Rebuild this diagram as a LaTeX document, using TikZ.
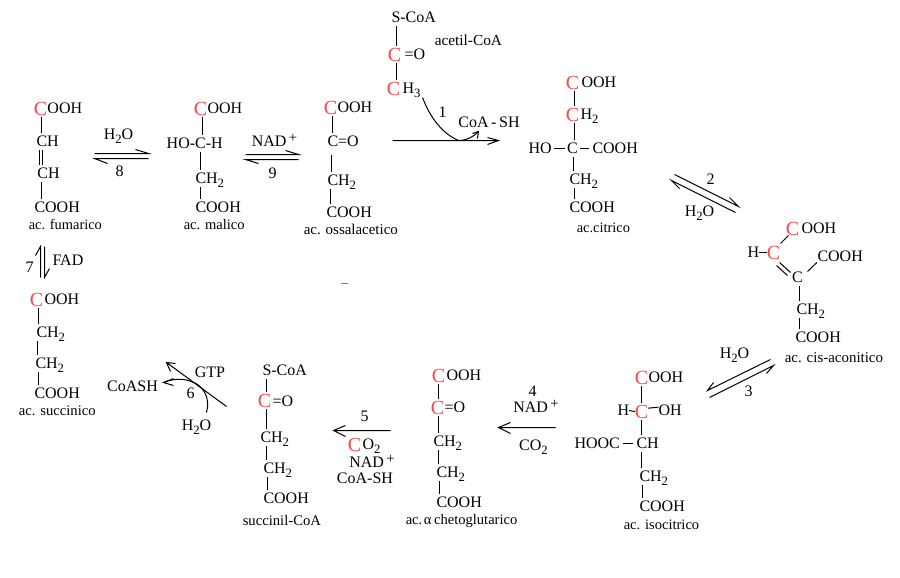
\documentclass[tikz,border=0pt]{standalone}
\usepackage{fontspec}
\setmainfont{Liberation Serif}
\definecolor{cred}{RGB}{255,70,70}
\newcommand{\fsA}{\fontsize{12}{14}\selectfont}
\newcommand{\fsR}{\fontsize{15}{17}\selectfont}
\newcommand{\sbs}[1]{\raisebox{-2.6pt}{\fontsize{9.5}{10}\selectfont #1}}
\newcommand{\sps}{\raisebox{3.6pt}{\fontsize{11}{11}\selectfont\,+}}
\tikzset{
  atom/.style={inner sep=0pt,outer xsep=0pt,outer ysep=2.6pt,text height=8pt,text depth=0pt,font=\fsA},
  redatom/.style={inner sep=0pt,outer xsep=0pt,outer ysep=1.6pt,text height=10pt,text depth=0pt,font=\fsR,text=cred},
  tail/.style={atom,anchor=west},
  cname/.style={inner sep=0pt,anchor=west,text height=7pt,text depth=0pt},
  bondl/.style={draw=black,line width=0.75pt},
  arrl/.style={draw=black,line width=0.75pt,line join=miter}
}
% black C with a tail: name, left x, y, tail
\newcommand{\Cb}[4]{\node[tail] (#1) at (#2,#3) {C}; \node[tail] (#1t) at (#1.east) {#4};}
% vertical bond: x, upper node, lower node
\newcommand{\bond}[3]{\draw[bondl] (#1,0 |- #2.south) -- (#1,0 |- #3.north);}
% formula text
\newcommand{\txt}[4]{\node[tail] (#1) at (#2,#3) {#4};}
% compound name: node, left x, y, size, text
\newcommand{\cpd}[5]{\node[cname,font=\fontsize{#4}{#4}\selectfont] (#1) at (#2,#3) {#5};}
\begin{document}
\begin{tikzpicture}[x=0.75pt,y=-0.75pt]
\path[use as bounding box,fill=white] (0,0) rectangle (900,578);
\begin{scope}[shift={(0.5,0.5)}]

% --- ac. fumarico
\node[redatom] (f1) at (40,108) {C}; \txt{f1t}{47}{108}{OOH}
\Cb{f2}{36}{141}{H}
\Cb{f3}{37}{173}{H}
\Cb{f4}{34}{207}{OOH}
\bond{41}{f1}{f2}
\draw[bondl] (39,0 |- f2.south) -- (39,0 |- f3.north);
\draw[bondl] (42,0 |- f2.south) -- (42,0 |- f3.north);
\bond{41}{f3}{f4}
\cpd{fn}{28}{224}{10.8}{ac. fumarico}

% --- ac. malico
\node[redatom] (m1) at (200,108) {C}; \txt{m1t}{207}{108}{OOH}
\node[atom] (m2) at (200,143) {C};
\node[atom,anchor=east] (m2l) at (m2.west) {HO-};
\node[tail] (m2r) at (m2.east) {-H};
\Cb{m3}{195}{178}{H\sbs{2}}
\Cb{m4}{195}{207}{OOH}
\bond{202}{m1}{m2}
\bond{200}{m2}{m3}
\bond{200}{m3}{m4}
\cpd{mn}{183}{224}{10.9}{ac. malico}

% --- ac. ossalacetico
\node[redatom] (o1) at (330,107) {C}; \txt{o1t}{337}{107}{OOH}
\Cb{o2}{327}{141}{=O}
\Cb{o3}{327}{180}{H\sbs{2}}
\Cb{o4}{326}{212}{OOH}
\bond{332}{o1}{o2}
\draw[bondl] (331,0 |- o2.south) ++(0,5) -- (331,0 |- o3.north);
\bond{330}{o3}{o4}
\cpd{on}{303}{229}{11.2}{ac. ossalacetico}
\draw[draw=cred,line width=0.75pt] (340,283) -- (347,283);

% --- acetil-CoA
\txt{a0}{391}{17}{S-CoA}
\node[redatom] (a1) at (394,54) {C}; \txt{a1t}{404}{54}{=O}
\node[redatom] (a2) at (393,88) {C}; \txt{a2t}{402}{88}{H\sbs{3}}
\draw[bondl] (396,0 |- a0.south) -- (396,0 |- a1.north);
\bond{396}{a1}{a2}
\cpd{an}{434}{40}{11.5}{acetil-CoA}

% --- ac. citrico
\node[redatom] (c1) at (572,82) {C}; \txt{c1t}{581}{82}{OOH}
\node[redatom] (c2) at (572,114) {C}; \txt{c2t}{580}{114}{H\sbs{2}}
\node[atom] (c3) at (572,148) {C};
\txt{c3l}{528}{148}{HO}
\txt{c3r}{592}{148}{COOH}
\Cb{c4}{569}{179}{H\sbs{2}}
\Cb{c5}{569}{207}{OOH}
\bond{574}{c1}{c2}
\bond{574}{c2}{c3}
\bond{573}{c3}{c4}
\bond{574}{c4}{c5}
\draw[bondl,shorten <=2pt,shorten >=1.5pt] (c3l.east) -- (c3.west);
\draw[bondl,shorten <=1.5pt,shorten >=3pt] (c3.east) -- (c3r.west);
\cpd{cn}{576}{227}{10.8}{ac.citrico}

% --- ac. cis-aconitico
\node[redatom] (k1) at (792,228) {C}; \txt{k1t}{801}{228}{OOH}
\txt{k2l}{747}{252}{H}
\node[redatom] (k2) at (773,252) {C};
\node[atom] (k3) at (797,277) {C};
\Cb{k4}{817}{256}{OOH}
\Cb{k5}{796}{309}{H\sbs{2}}
\Cb{k6}{795}{337}{OOH}
\draw[bondl] ([shift={(7,-9)}]k2.center) -- ([shift={(-4,7)}]k1.center);
\draw[bondl] (k2l.east) -- (k2.west);
\draw[bondl] ([shift={(6,10)}]k2.center) -- ([shift={(-7,-5)}]k3.center);
\draw[bondl] ([shift={(3,13)}]k2.center) -- ([shift={(-10,-2)}]k3.center);
\draw[bondl] ([shift={(10,-6)}]k3.center) -- ([shift={(-6,6)}]k4.center);
\bond{799}{k3}{k5}
\bond{799}{k5}{k6}
\cpd{kn}{784}{357}{11.2}{ac. cis-aconitico}

% --- ac. isocitrico
\node[redatom] (i1) at (641,377) {C}; \txt{i1t}{648}{377}{OOH}
\txt{i2l}{617}{410}{H}
\node[redatom] (i2) at (641,411) {C};
\txt{i2r}{658}{410}{OH}
\Cb{i3}{636}{443}{H}
\txt{i3l}{574}{443}{HOOC}
\Cb{i4}{639}{476}{H\sbs{2}}
\Cb{i5}{639}{506}{OOH}
\bond{641}{i1}{i2}
\bond{641}{i2}{i3}
\bond{641}{i3}{i4}
\bond{642}{i4}{i5}
\draw[bondl] (i2l.east) -- (i2.west);
\draw[bondl] ([yshift=2.5pt]i2.east) -- ([yshift=2.5pt]i2r.west);
\draw[bondl,shorten <=2pt,shorten >=3pt] (i3l.east) -- (i3.west);
\cpd{in}{623}{524}{10.9}{ac. isocitrico}

% --- ac. chetoglutarico
\node[redatom] (g1) at (438,375) {C}; \txt{g1t}{446}{375}{OOH}
\node[redatom] (g2) at (437,407) {C}; \txt{g2t}{444}{407}{=O}
\Cb{g3}{433}{441}{H\sbs{2}}
\Cb{g4}{436}{472}{H\sbs{2}}
\Cb{g5}{436}{502}{OOH}
\bond{438}{g1}{g2}
\bond{438}{g2}{g3}
\bond{438}{g3}{g4}
\bond{439}{g4}{g5}
\cpd{gn}{405}{519}{10.9}{ac.\hspace{1.2pt}α\hspace{2pt}chetoglutarico}

% --- succinil-CoA
\txt{s0}{262}{370}{S-CoA}
\node[redatom] (s1) at (264,400) {C}; \txt{s1t}{272}{401}{=O}
\Cb{s2}{260}{437}{H\sbs{2}}
\Cb{s3}{263}{468}{H\sbs{2}}
\Cb{s4}{263}{498}{OOH}
\draw[bondl] (266,0 |- s0.south) -- (266,0 |- s1.north);
\bond{266}{s1}{s2}
\bond{266}{s2}{s3}
\bond{267}{s3}{s4}
\cpd{sn}{242}{520}{11}{succinil-CoA}

% --- ac. succinico
\node[redatom] (u1) at (36,299) {C}; \txt{u1t}{44}{299}{OOH}
\Cb{u2}{36}{332}{H\sbs{2}}
\Cb{u3}{35}{363}{H\sbs{2}}
\Cb{u4}{34}{393}{OOH}
\bond{38}{u1}{u2}
\bond{37}{u2}{u3}
\bond{38}{u3}{u4}
\cpd{un}{18}{410}{11}{ac. succinico}

% --- reaction 8
\node[atom] (r8a) at (118,134) {H\sbs{2}O};
\node[atom] (r8b) at (119,171) {8};
\coordinate (e8a) at (94,153); \coordinate (e8b) at (148,153);
\coordinate (e8c) at (148,158); \coordinate (e8d) at (94,158);
\draw[arrl] (e8a) -- (e8b) -- ++(-13,-4);
\draw[arrl] (e8c) -- (e8d) -- ++(13,5);

% --- reaction 9
\node[atom] (r9a) at (274,141) {NAD\sps};
\node[atom] (r9b) at (272,173) {9};
\coordinate (e9a) at (245,154); \coordinate (e9b) at (298,154);
\coordinate (e9c) at (298,159); \coordinate (e9d) at (245,159);
\draw[arrl] (e9a) -- (e9b) -- ++(-13,-4);
\draw[arrl] (e9c) -- (e9d) -- ++(13,4);

% --- reaction 7
\node[atom] (r7a) at (29,267) {7};
\txt{r7b}{52}{260}{FAD}
\coordinate (e7a) at (40,277); \coordinate (e7b) at (40,246);
\coordinate (e7c) at (44,246); \coordinate (e7d) at (44,277);
\draw[arrl] (e7a) -- (e7b) -- ++(-5,9);
\draw[arrl] (e7c) -- (e7d) -- ++(5,-9);

% --- reaction 1
\node[atom] (r1a) at (442,112) {1};
\node[atom] (r1b) at (488.5,122) {CoA\,-\,SH};
\coordinate (e1a) at (392,140); \coordinate (e1b) at (498,140);
\coordinate (e1c) at (422,97); \coordinate (e1d) at (458,140); \coordinate (e1e) at (478,131);
\draw[arrl] (e1a) -- (e1b) ++(-11,-3) -- (e1b) -- ++(-11,4);
\draw[arrl] (e1c) .. controls (430,118) and (442,133) .. (e1d) .. controls (466,140) and (472,137) .. (e1e);
\draw[arrl] (e1e) ++(-6,2) -- (e1e) -- ++(-1,7);

% --- reaction 2
\node[atom] (r2a) at (710,179) {2};
\node[atom] (r2b) at (699,211) {H\sbs{2}O};
\coordinate (e2a) at (674,174); \coordinate (e2b) at (738,206);
\coordinate (e2c) at (735,212); \coordinate (e2d) at (671,180);
\draw[arrl] (e2a) -- (e2b) -- ++(-9,-9);
\draw[arrl] (e2c) -- (e2d) -- ++(8,8);

% --- reaction 3
\node[atom] (r3a) at (734,353) {H\sbs{2}O};
\node[atom] (r3b) at (748,391) {3};
\coordinate (e3a) at (770,359); \coordinate (e3b) at (707,390);
\coordinate (e3c) at (709,397); \coordinate (e3d) at (773,365);
\draw[arrl] (e3a) -- (e3b) -- ++(6,-8);
\draw[arrl] (e3c) -- (e3d) -- ++(-7,8);

% --- reaction 4
\node[atom] (r4a) at (532,391) {4};
\node[atom] (r4b) at (535.5,407) {NAD\sps};
\node[atom] (r4c) at (533,445) {CO\sbs{2}};
\coordinate (e4a) at (555,427); \coordinate (e4b) at (498,427);
\draw[arrl] (e4a) -- (e4b) ++(12,-5) -- (e4b) -- ++(12,6);

% --- reaction 5
\node[atom] (r5a) at (364,416) {5};
\node[redatom] (r5b) at (354,444) {C}; \txt{r5bt}{362}{444}{O\sbs{2}}
\node[atom] (r5c) at (371.5,462) {NAD\sps};
\node[atom] (r5d) at (364.5,478) {CoA-SH};
\coordinate (e5a) at (390,430); \coordinate (e5b) at (333,430);
\draw[arrl] (e5a) -- (e5b) ++(12,-5) -- (e5b) -- ++(12,6);

% --- reaction 6
\node[atom] (r6a) at (190,393) {6};
\node[atom] (r6b) at (209.5,372) {GTP};
\node[atom] (r6c) at (132,386) {CoASH};
\node[atom] (r6d) at (196,425) {H\sbs{2}O};
\coordinate (e6a) at (226,406); \coordinate (e6b) at (166,362);
\coordinate (e6c) at (206,412); \coordinate (e6d) at (163,382);
\draw[arrl] (e6a) -- (e6b) ++(9,1) -- (e6b) -- ++(4,9);
\draw[arrl] (e6c) .. controls (210,398) and (203,388) .. (197,384) .. controls (188,378) and (175,377) .. (e6d);
\draw[arrl] (e6d) ++(10,-4) -- (e6d) -- ++(10,3);
\end{scope}
\end{tikzpicture}
\end{document}
